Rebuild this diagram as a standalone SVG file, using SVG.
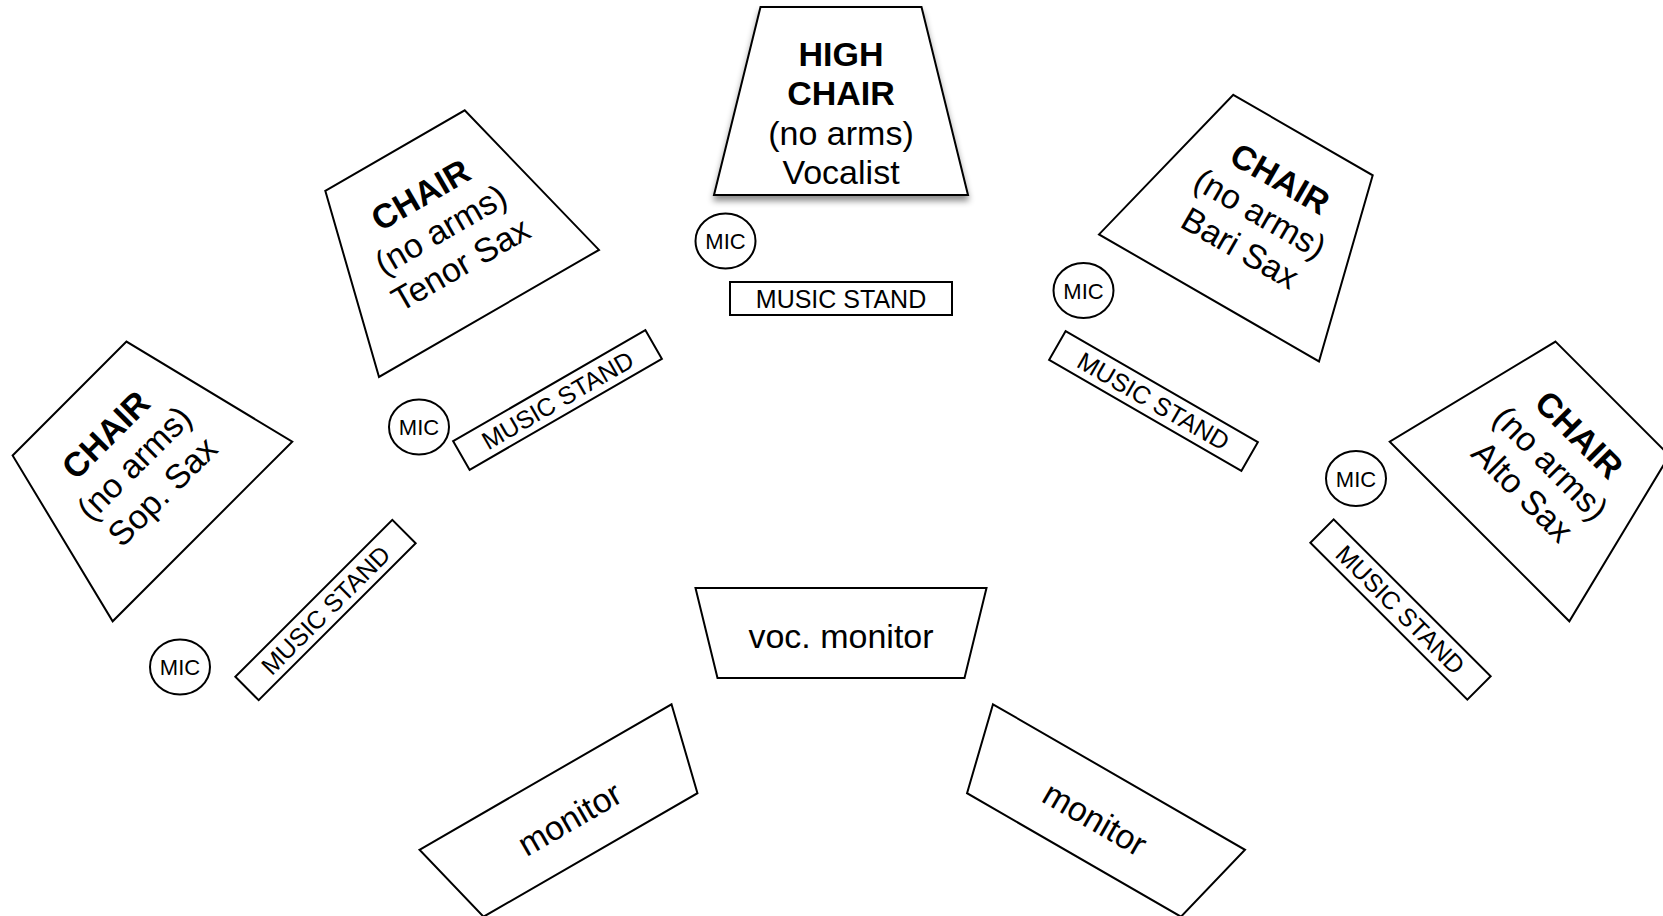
<svg xmlns="http://www.w3.org/2000/svg" xmlns:xlink="http://www.w3.org/1999/xlink" width="1663" height="916" viewBox="0 0 1663 916">
<style>
  .shape{fill:#fff;stroke:#000;stroke-width:2;stroke-linejoin:miter}
  text{font-family:"Liberation Sans",Arial,Helvetica,sans-serif;fill:#000;text-anchor:middle}
  .big{font-size:34px}
  .bold{font-weight:bold}
  .stand{font-size:25px}
  .mic{font-size:22px}
</style>
<defs>
  <path id="chairShape" d="M-80.5,-94 L80.5,-94 L127,94 L-127,94 Z"/>
  <path id="monitorShape" d="M-145.5,-45 L145.5,-45 L123.5,45 L-123.5,45 Z"/>
  <rect id="standShape" x="-111" y="-16.5" width="222" height="33"/>
  <ellipse id="micShape" cx="0" cy="0" rx="30" ry="27.5"/>
  <filter id="shadow" x="-20%" y="-20%" width="140%" height="150%">
    <feDropShadow dx="0" dy="5" stdDeviation="3" flood-color="#000" flood-opacity="0.45"/>
  </filter>
</defs>
<rect x="0" y="0" width="1663" height="916" fill="#fff"/>

<g id="connectors"></g>

<!-- High chair (vocalist) -->
<g id="high-chair" transform="translate(841,101)">
  <use xlink:href="#chairShape" class="shape" filter="url(#shadow)"/>
  <text class="big bold" x="0" y="-35">HIGH</text>
  <text class="big bold" x="0" y="4">CHAIR</text>
  <text class="big" x="0" y="43.5">(no arms)</text>
  <text class="big" x="0" y="83">Vocalist</text>
</g>
<g id="mic-vocal" transform="translate(725.5,241)">
  <use xlink:href="#micShape" class="shape"/>
  <text class="mic" x="0" y="8">MIC</text>
</g>
<g id="stand-vocal" transform="translate(841,298.5)">
  <use xlink:href="#standShape" class="shape"/>
  <text class="stand" x="0" y="9">MUSIC STAND</text>
</g>

<!-- Tenor Sax -->
<g id="chair-tenor" transform="translate(442,232) rotate(-30)">
  <use xlink:href="#chairShape" class="shape"/>
  <text class="big bold" x="0" y="-31">CHAIR</text>
  <text class="big" x="0" y="9">(no arms)</text>
  <text class="big" x="0" y="49">Tenor Sax</text>
</g>
<g id="mic-tenor" transform="translate(419,427)">
  <use xlink:href="#micShape" class="shape"/>
  <text class="mic" x="0" y="8">MIC</text>
</g>
<g id="stand-tenor" transform="translate(557.5,400) rotate(-30)">
  <use xlink:href="#standShape" class="shape"/>
  <text class="stand" x="0" y="9">MUSIC STAND</text>
</g>

<!-- Soprano Sax -->
<g id="chair-sop" transform="translate(136,465) rotate(-45)">
  <use xlink:href="#chairShape" class="shape"/>
  <text class="big bold" x="0" y="-31">CHAIR</text>
  <text class="big" x="0" y="9">(no arms)</text>
  <text class="big" x="0" y="49">Sop. Sax</text>
</g>
<g id="mic-sop" transform="translate(180,667)">
  <use xlink:href="#micShape" class="shape"/>
  <text class="mic" x="0" y="8">MIC</text>
</g>
<g id="stand-sop" transform="translate(325.5,610) rotate(-45)">
  <use xlink:href="#standShape" class="shape"/>
  <text class="stand" x="0" y="9">MUSIC STAND</text>
</g>

<!-- Bari Sax -->
<g id="chair-bari" transform="translate(1256,216.5) rotate(30)">
  <use xlink:href="#chairShape" class="shape"/>
  <text class="big bold" x="2" y="-33">CHAIR</text>
  <text class="big" x="2" y="7">(no arms)</text>
  <text class="big" x="2" y="47">Bari Sax</text>
</g>
<g id="mic-bari" transform="translate(1083.5,290.5)">
  <use xlink:href="#micShape" class="shape"/>
  <text class="mic" x="0" y="8">MIC</text>
</g>
<g id="stand-bari" transform="translate(1153.5,401) rotate(30)">
  <use xlink:href="#standShape" class="shape"/>
  <text class="stand" x="0" y="9">MUSIC STAND</text>
</g>

<!-- Alto Sax -->
<g id="chair-alto" transform="translate(1546,465) rotate(45)">
  <use xlink:href="#chairShape" class="shape"/>
  <text class="big bold" x="2" y="-33">CHAIR</text>
  <text class="big" x="2" y="7">(no arms)</text>
  <text class="big" x="2" y="47">Alto Sax</text>
</g>
<g id="mic-alto" transform="translate(1356,478.5)">
  <use xlink:href="#micShape" class="shape"/>
  <text class="mic" x="0" y="8">MIC</text>
</g>
<g id="stand-alto" transform="translate(1400.5,609.5) rotate(45)">
  <use xlink:href="#standShape" class="shape"/>
  <text class="stand" x="0" y="9">MUSIC STAND</text>
</g>

<!-- Monitors -->
<g id="voc-monitor" transform="translate(841,633)">
  <use xlink:href="#monitorShape" class="shape"/>
  <text class="big" x="0" y="15">voc. monitor</text>
</g>
<g id="monitor-left" transform="translate(568,816) rotate(-30)">
  <use xlink:href="#monitorShape" class="shape"/>
  <text class="big" x="0" y="15">monitor</text>
</g>
<g id="monitor-right" transform="translate(1096.5,816) rotate(30)">
  <use xlink:href="#monitorShape" class="shape"/>
  <text class="big" x="0" y="15">monitor</text>
</g>
</svg>
